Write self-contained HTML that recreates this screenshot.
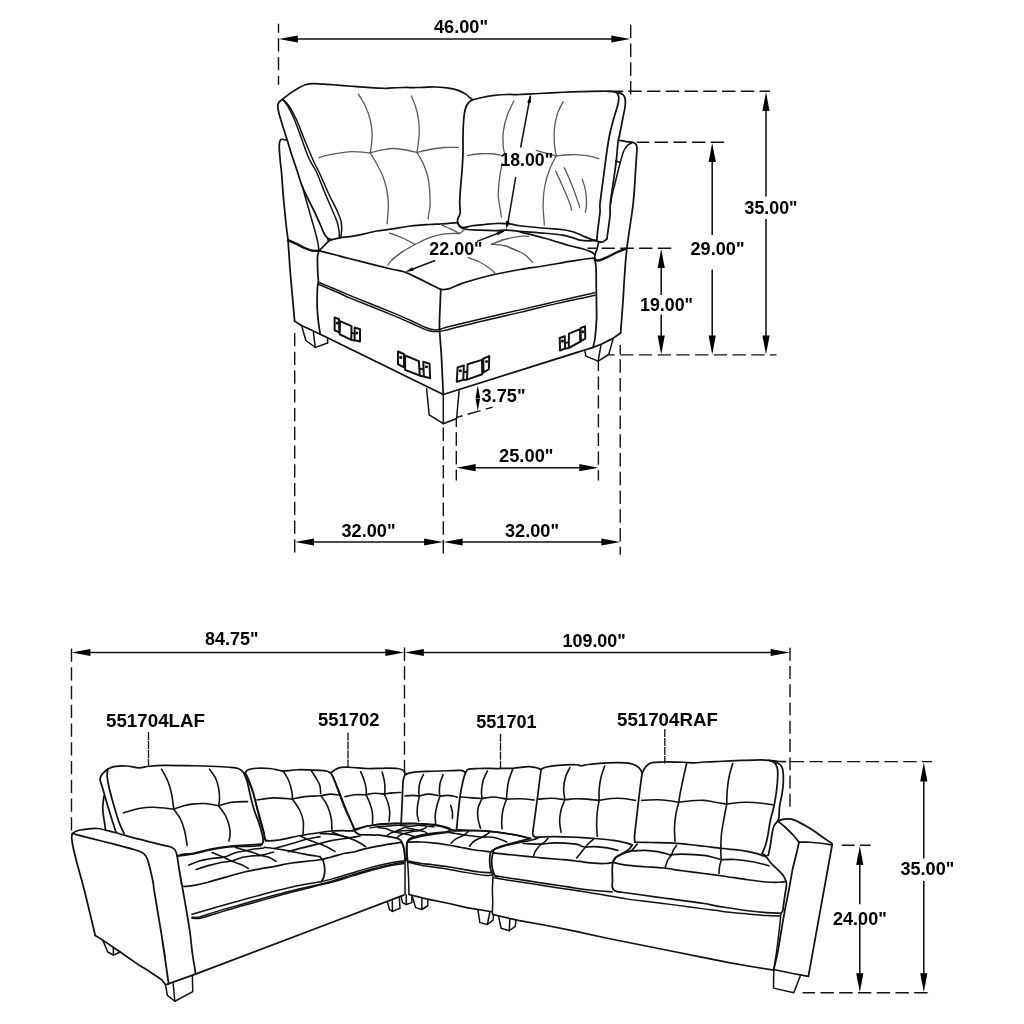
<!DOCTYPE html>
<html><head><meta charset="utf-8"><title>Dimensions</title>
<style>
html,body{margin:0;padding:0;background:#fff;}
body{width:1024px;height:1024px;overflow:hidden;font-family:"Liberation Sans",sans-serif;}
svg{display:block;position:absolute;left:0;top:0;}
text{will-change:transform;}
.o{fill:none;stroke:#111;stroke-width:1.75;stroke-linecap:round;stroke-linejoin:round;}
.k{fill:none;stroke:#111;stroke-width:2.4;stroke-linecap:round;stroke-linejoin:round;}
.t{fill:none;stroke:#5a5a5a;stroke-width:1.3;stroke-linecap:round;stroke-linejoin:round;}
.u{fill:none;stroke:#111;stroke-width:1.5;stroke-linecap:round;stroke-linejoin:round;}
.d{fill:none;stroke:#111;stroke-width:1.55;}
.h{fill:none;stroke:#111;stroke-width:1.4;stroke-dasharray:13.4 5.35;}
.b{fill:none;stroke:#111;stroke-width:2;stroke-linejoin:round;}
.d2{fill:none;stroke:#111;stroke-width:1.5;}
.v{fill:none;stroke:#111;stroke-width:1.6;stroke-linecap:round;stroke-linejoin:round;}
.hs{fill:none;stroke:#111;stroke-width:1.3;stroke-dasharray:8 1;}
.a{fill:#000;stroke:none;}
text{font-family:"Liberation Sans",sans-serif;font-weight:bold;fill:#000;}
</style></head><body>
<svg width="1024" height="1024" viewBox="0 0 1024 1024">
<rect x="0" y="0" width="1024" height="1024" fill="#fff"/>
<path class="d" d="M288.8 39 L620.3 39"/>
<path class="a" d="M278.8 39 L297.8 35.4 L297.8 42.6 Z"/>
<path class="a" d="M630.3 39 L611.3 42.6 L611.3 35.4 Z"/>
<path class="h" stroke-dashoffset="4.4" d="M278.5 23.8 L278.5 84.8"/>
<path class="h" stroke-dashoffset="0" d="M630.7 24.8 L630.7 100"/>
<text x="434" y="33" font-size="17.5" textLength="54" lengthAdjust="spacingAndGlyphs">46.00&quot;</text>
<path class="h" stroke-dashoffset="0" d="M628.3 91.2 L770 91.2"/>
<path class="d" d="M766 102 L766 196.5"/>
<path class="d" d="M766 219 L766 344.5"/>
<path class="a" d="M766 92 L769.6 111 L762.4 111 Z"/>
<path class="a" d="M766 354.5 L762.4 335.5 L769.6 335.5 Z"/>
<text x="744.5" y="213.5" font-size="17.5" textLength="53" lengthAdjust="spacingAndGlyphs">35.00&quot;</text>
<path class="h" stroke-dashoffset="0.9" d="M636.7 142.3 L726.3 142.3"/>
<path class="d" d="M712.2 153 L712.2 235"/>
<path class="d" d="M712.2 269.5 L712.2 344.5"/>
<path class="a" d="M712.2 143 L715.8 162 L708.6 162 Z"/>
<path class="a" d="M712.2 354.5 L708.6 335.5 L715.8 335.5 Z"/>
<text x="690.5" y="255" font-size="17.5" textLength="54" lengthAdjust="spacingAndGlyphs">29.00&quot;</text>
<path class="h" stroke-dashoffset="4.65" d="M587.5 248.2 L671.5 248.2"/>
<path class="d" d="M661.2 259 L661.2 295"/>
<path class="d" d="M661.2 314.5 L661.2 344.5"/>
<path class="a" d="M661.2 249 L664.8 268 L657.6 268 Z"/>
<path class="a" d="M661.2 354.5 L657.6 335.5 L664.8 335.5 Z"/>
<text x="640" y="310.5" font-size="17.5" textLength="53" lengthAdjust="spacingAndGlyphs">19.00&quot;</text>
<path class="h" stroke-dashoffset="7.5" d="M608.8 354.9 L776.5 354.9"/>
<path class="h" stroke-dashoffset="0" d="M294.7 332.9 L294.7 554.5"/>
<path class="h" stroke-dashoffset="0" d="M443.3 427.5 L443.3 554.7"/>
<path class="h" stroke-dashoffset="4.6" d="M620.2 345.1 L620.2 554.7"/>
<path class="h" stroke-dashoffset="4.8" d="M456.3 418.3 L456.3 480.6"/>
<path class="h" stroke-dashoffset="3.65" d="M598.4 361.3 L598.4 480.6"/>
<path class="d" d="M305 542 L433.1 542"/>
<path class="a" d="M295 542 L314 538.4 L314 545.6 Z"/>
<path class="a" d="M443.1 542 L424.1 545.6 L424.1 538.4 Z"/>
<path class="d" d="M453.6 542 L610.3 542"/>
<path class="a" d="M443.6 542 L462.6 538.4 L462.6 545.6 Z"/>
<path class="a" d="M620.3 542 L601.3 545.6 L601.3 538.4 Z"/>
<text x="341.5" y="536.5" font-size="17.5" textLength="54" lengthAdjust="spacingAndGlyphs">32.00&quot;</text>
<text x="505" y="536.5" font-size="17.5" textLength="54" lengthAdjust="spacingAndGlyphs">32.00&quot;</text>
<path class="d" d="M466.6 467.7 L588.3 467.7"/>
<path class="a" d="M456.6 467.7 L475.6 464.1 L475.6 471.3 Z"/>
<path class="a" d="M598.3 467.7 L579.3 471.3 L579.3 464.1 Z"/>
<text x="499" y="462" font-size="17.5" textLength="54.5" lengthAdjust="spacingAndGlyphs">25.00&quot;</text>
<text x="481.5" y="402" font-size="17.5" textLength="44" lengthAdjust="spacingAndGlyphs">3.75&quot;</text>
<path class="d" d="M81.4 652.5 L394.3 652.5"/>
<path class="a" d="M71.4 652.5 L90.4 648.9 L90.4 656.1 Z"/>
<path class="a" d="M404.3 652.5 L385.3 656.1 L385.3 648.9 Z"/>
<path class="d" d="M414.8 652.5 L779.7 652.5"/>
<path class="a" d="M404.8 652.5 L423.8 648.9 L423.8 656.1 Z"/>
<path class="a" d="M789.7 652.5 L770.7 656.1 L770.7 648.9 Z"/>
<path class="h" stroke-dashoffset="0" d="M71.5 648.4 L71.5 832.3"/>
<path class="h" stroke-dashoffset="0" d="M404.5 647.6 L404.5 773.2"/>
<path class="h" style="stroke-dasharray:13.04 5.2" d="M790 647.8 L790 806.8"/>
<text x="205" y="644.7" font-size="17.5" textLength="53.5" lengthAdjust="spacingAndGlyphs">84.75&quot;</text>
<text x="562.5" y="647.2" font-size="17.5" textLength="63.3" lengthAdjust="spacingAndGlyphs">109.00&quot;</text>
<text x="106" y="727" font-size="18" textLength="99" lengthAdjust="spacingAndGlyphs">551704LAF</text>
<text x="318" y="726" font-size="18" textLength="61.5" lengthAdjust="spacingAndGlyphs">551702</text>
<text x="476.3" y="728" font-size="18" textLength="60.2" lengthAdjust="spacingAndGlyphs">551701</text>
<text x="617" y="725.5" font-size="18" textLength="100.8" lengthAdjust="spacingAndGlyphs">551704RAF</text>
<path class="hs" stroke-dashoffset="0" d="M148.5 732 L148.5 765.5"/>
<path class="hs" stroke-dashoffset="0" d="M348 732.5 L348 766.8"/>
<path class="hs" stroke-dashoffset="0" d="M500.5 733.8 L500.5 768"/>
<path class="hs" stroke-dashoffset="0" d="M664.8 729 L664.8 763.5"/>
<path class="h" stroke-dashoffset="0" d="M790.7 761.6 L932 761.6"/>
<path class="d" d="M923.8 772.5 L923.8 858.5"/>
<path class="d" d="M923.8 881 L923.8 982.3"/>
<path class="a" d="M923.8 762.5 L927.4 781.5 L920.2 781.5 Z"/>
<path class="a" d="M923.8 992.3 L920.2 973.3 L927.4 973.3 Z"/>
<text x="900.5" y="874.7" font-size="17.5" textLength="53.8" lengthAdjust="spacingAndGlyphs">35.00&quot;</text>
<path class="h" stroke-dashoffset="0.4" d="M841.6 845.2 L870.6 845.2"/>
<path class="d" d="M859.8 856 L859.8 904.3"/>
<path class="d" d="M859.8 917 L859.8 982.3"/>
<path class="a" d="M859.8 846 L863.4 865 L856.2 865 Z"/>
<path class="a" d="M859.8 992.3 L856.2 973.3 L863.4 973.3 Z"/>
<text x="833" y="925.2" font-size="17.5" textLength="53.8" lengthAdjust="spacingAndGlyphs">24.00&quot;</text>
<path class="h" stroke-dashoffset="0.9" d="M802.6 992.8 L933 992.8"/>
<path class="o" d="M282.75 99.12 C283.79 98.29 286.5 95.9 289 94.12 C291.5 92.35 295.04 90.06 297.75 88.5 C300.46 86.94 302.54 85.58 305.25 84.75 C307.96 83.92 309.42 83.5 314 83.5 C318.58 83.5 326.5 84.29 332.75 84.75 C339 85.21 345.25 85.77 351.5 86.25 C357.75 86.73 364.83 87.29 370.25 87.62 C375.67 87.96 380.38 88.21 384 88.25 C387.62 88.29 388.58 88 392 87.88 C395.42 87.75 400.33 87.56 404.5 87.5 C408.67 87.44 412.21 87.58 417 87.5 C421.79 87.42 428.25 86.94 433.25 87 C438.25 87.06 442.83 87.31 447 87.88 C451.17 88.44 455.12 89.33 458.25 90.38 C461.38 91.42 463.77 92.88 465.75 94.12 C467.73 95.38 468.98 96.94 470.12 97.88 C471.27 98.81 472.21 99.44 472.62 99.75"/>
<path class="o" d="M282.75 99.12 C282.12 99.65 279.83 101.1 279 102.25 C278.17 103.4 277.75 104.12 277.75 106 C277.75 107.88 278.17 110.17 279 113.5 C279.83 116.83 281.4 121.62 282.75 126 C284.1 130.38 285.56 134.75 287.12 139.75 C288.69 144.75 290.4 150.62 292.12 156 C293.85 161.38 295.94 167.25 297.5 172 C299.06 176.75 300 180.54 301.5 184.5 C303 188.46 304.42 191.38 306.5 195.75 C308.58 200.12 311.71 205.96 314 210.75 C316.29 215.54 318.58 220.75 320.25 224.5 C321.92 228.25 322.75 230.96 324 233.25 C325.25 235.54 326.4 237.21 327.75 238.25 C329.1 239.29 330.04 239.6 332.12 239.5 C334.21 239.4 338.9 237.94 340.25 237.62"/>
<path class="u" d="M283.38 99.75 C284.31 100.79 286.81 102.67 289 106 C291.19 109.33 294 114.33 296.5 119.75 C299 125.17 301.08 131.42 304 138.5 C306.92 145.58 311.5 156.67 314 162.25 C316.5 167.83 316.5 166.62 319 172 C321.5 177.38 326.08 188.25 329 194.5 C331.92 200.75 334.52 205.12 336.5 209.5 C338.48 213.88 340 217.62 340.88 220.75 C341.75 223.88 341.75 225.54 341.75 228.25 C341.75 230.96 341.02 235.54 340.88 237"/>
<path class="u" d="M282.75 99.75 C283.58 100.79 285.88 102.88 287.75 106 C289.62 109.12 291.71 113.08 294 118.5 C296.29 123.92 299 131.83 301.5 138.5 C304 145.17 306.5 152.92 309 158.5 C311.5 164.08 314 166.62 316.5 172 C319 177.38 321.5 184.71 324 190.75 C326.5 196.79 329.31 203.04 331.5 208.25 C333.69 213.46 335.88 218.25 337.12 222 C338.38 225.75 338.62 228.15 339 230.75 C339.38 233.35 339.31 236.48 339.38 237.62"/>
<path class="o" d="M340.25 237.62 C342.12 237.42 347.54 237 351.5 236.38 C355.46 235.75 359.83 234.77 364 233.88 C368.17 232.98 371.83 231.83 376.5 231 C381.17 230.17 386.29 229.71 392 228.88 C397.71 228.04 404.5 226.73 410.75 226 C417 225.27 424.29 224.85 429.5 224.5 C434.71 224.15 437.31 224.19 442 223.88 C446.69 223.56 455.02 222.83 457.62 222.62"/>
<path class="o" d="M287.12 140.38 C286.08 140.23 282.19 138.56 280.88 139.5 C279.56 140.44 279.35 142.42 279.25 146 C279.15 149.58 279.88 156.67 280.25 161 C280.62 165.33 280.98 166 281.5 172 C282.02 178 282.54 187.62 283.38 197 C284.21 206.38 285.73 221.06 286.5 228.25 C287.27 235.44 287.38 232.83 288 240.12 C288.62 247.42 289.56 263.19 290.25 272 C290.94 280.81 291.4 284.81 292.12 293 C292.85 301.19 294.21 316.44 294.62 321.12"/>
<path class="u" d="M302.12 185.75 C302.65 187.62 303.9 192.21 305.25 197 C306.6 201.79 308.58 208.67 310.25 214.5 C311.92 220.33 314 227.42 315.25 232 C316.5 236.58 317.12 238.88 317.75 242 C318.38 245.12 318.79 249.29 319 250.75"/>
<path class="u" d="M327.75 238.25 L328.38 241.38 L332.12 239.5"/>
<path class="o" d="M328.38 241.38 C327.65 242.1 325.56 244.19 324 245.75 C322.44 247.31 319.83 249.92 319 250.75"/>
<path class="k" d="M288 240.12 C289.42 240.75 293.62 242.52 296.5 243.88 C299.38 245.23 302.54 247.1 305.25 248.25 C307.96 249.4 310.46 250.33 312.75 250.75 C315.04 251.17 317.96 250.75 319 250.75"/>
<path class="o" d="M472.62 99.75 C474.19 99.38 478.35 98.23 482 97.5 C485.65 96.77 490.33 95.88 494.5 95.38 C498.67 94.88 502.75 94.65 507 94.5 C511.25 94.35 514.71 94.67 520 94.5 C525.29 94.33 531.46 93.88 538.75 93.5 C546.04 93.12 556.46 92.56 563.75 92.25 C571.04 91.94 575.21 91.79 582.5 91.62 C589.79 91.46 602.08 91.19 607.5 91.25 C612.92 91.31 613.23 91.42 615 92 C616.77 92.58 617.5 93.56 618.12 94.75 C618.75 95.94 618.85 97.25 618.75 99.12 C618.65 101 618.33 102.77 617.5 106 C616.67 109.23 615.1 113.5 613.75 118.5 C612.4 123.5 610.62 129.75 609.38 136 C608.12 142.25 607.29 148.71 606.25 156 C605.21 163.29 604.17 171.75 603.12 179.75 C602.08 187.75 600.52 198.62 600 204 C599.48 209.38 600.42 207.33 600 212 C599.58 216.67 598.02 227.31 597.5 232 C596.98 236.69 596.98 238.77 596.88 240.12"/>
<path class="o" d="M607.5 91.25 L622.5 91.25"/>
<path class="o" d="M618.12 92.5 C618.96 92.88 621.94 93.54 623.12 94.75 C624.31 95.96 624.94 97.67 625.25 99.75 C625.56 101.83 625.46 103.92 625 107.25 C624.54 110.58 623.44 114.96 622.5 119.75 C621.56 124.54 620.1 132.46 619.38 136 C618.65 139.54 618.65 136.83 618.12 141 C617.6 145.17 617.08 153.92 616.25 161 C615.42 168.08 614.12 176.33 613.12 183.5 C612.12 190.67 610.77 198.62 610.25 204 C609.73 209.38 610.46 210.67 610 215.75 C609.54 220.83 608.02 230.65 607.5 234.5 C606.98 238.35 606.98 238.15 606.88 238.88"/>
<path class="o" d="M606.88 238.88 C606.15 239.4 604.06 241.58 602.5 242 C600.94 242.42 599.58 241.9 597.5 241.38 C595.42 240.85 592.5 239.81 590 238.88 C587.5 237.94 585.21 236.9 582.5 235.75 C579.79 234.6 576.88 233 573.75 232 C570.62 231 568.54 230.38 563.75 229.75 C558.96 229.12 552.29 228.92 545 228.25 C537.71 227.58 525.92 226.48 520 225.75 C514.08 225.02 513.33 224.25 509.5 223.88 C505.67 223.5 501.17 223.4 497 223.5 C492.83 223.6 488.67 224.12 484.5 224.5 C480.33 224.88 475.54 225.23 472 225.75 C468.46 226.27 465.33 227.62 463.25 227.62 C461.17 227.62 460.44 226.69 459.5 225.75 C458.56 224.81 457.88 223.25 457.62 222 C457.38 220.75 457.58 219.71 458 218.25 C458.42 216.79 459.83 215.96 460.12 213.25 C460.42 210.54 459.69 206.12 459.75 202 C459.81 197.88 460.12 193.67 460.5 188.5 C460.88 183.33 461.58 176.83 462 171 C462.42 165.17 462.83 158.92 463 153.5 C463.17 148.08 462.92 143.71 463 138.5 C463.08 133.29 463.15 127.04 463.5 122.25 C463.85 117.46 464.33 112.98 465.12 109.75 C465.92 106.52 467 104.54 468.25 102.88 C469.5 101.21 471.9 100.27 472.62 99.75"/>
<path class="o" d="M457.62 222.62 C458.04 223.35 458.77 225.9 460.12 227 C461.48 228.1 462.52 228.73 465.75 229.25 C468.98 229.77 474.71 229.92 479.5 230.12 C484.29 230.33 489.92 230.5 494.5 230.5 C499.08 230.5 502.75 229.98 507 230.12 C511.25 230.27 513.67 230.85 520 231.38 C526.33 231.9 537.92 232.62 545 233.25 C552.08 233.88 557.92 234.4 562.5 235.12 C567.08 235.85 569.58 236.79 572.5 237.62 C575.42 238.46 577.08 239.6 580 240.12 C582.92 240.65 587.19 240.75 590 240.75 C592.81 240.75 595.73 240.23 596.88 240.12"/>
<path class="o" d="M520 232 C524.17 233.04 536.67 235.96 545 238.25 C553.33 240.54 563.33 243.88 570 245.75 C576.67 247.62 581.25 248.35 585 249.5 C588.75 250.65 590.88 251.69 592.5 252.62 C594.12 253.56 594.38 254.71 594.75 255.12"/>
<path class="o" d="M618.75 140.38 C620 140.58 623.85 141.27 626.25 141.62 C628.65 141.98 631.46 141.98 633.12 142.5 C634.79 143.02 635.62 143.54 636.25 144.75 C636.88 145.96 636.98 145.58 636.88 149.75 C636.77 153.92 636.25 160.71 635.62 169.75 C635 178.79 634.58 190.92 633.12 204 C631.67 217.08 628.33 235.88 626.88 248.25 C625.42 260.62 625 269.75 624.38 278.25 C623.75 286.75 623.75 290.12 623.12 299.25 C622.5 308.38 621.04 327.38 620.62 333"/>
<path class="u" d="M631.88 142.88 C631.15 143.29 628.85 144.02 627.5 145.38 C626.15 146.73 625 147.98 623.75 151 C622.5 154.02 621.46 158.08 620 163.5 C618.54 168.92 616.35 178.08 615 183.5 C613.65 188.92 612.6 192.58 611.88 196 C611.15 199.42 610.83 202.67 610.62 204"/>
<path class="u" d="M615.62 161 L620 162.25"/>
<path class="o" d="M620.62 333 L612.5 338.62 L601.25 344.25 L593.12 347.38"/>
<path class="k" d="M594.75 259.5 C595.42 259.67 596.62 260.92 598.75 260.5 C600.88 260.08 604.38 258.42 607.5 257 C610.62 255.58 614.38 253.42 617.5 252 C620.62 250.58 624.79 249.08 626.25 248.5"/>
<path class="o" d="M598.75 242 C598.44 243.25 597.5 247.31 596.88 249.5 C596.25 251.69 595.35 253.46 595 255.12 C594.65 256.79 594.58 257.52 594.75 259.5 C594.92 261.48 595.75 262.83 596 267 C596.25 271.17 596.17 278.08 596.25 284.5 C596.33 290.92 596.46 299.5 596.5 305.5 C596.54 311.5 596.75 315.08 596.5 320.5 C596.25 325.92 595.56 333.52 595 338 C594.44 342.48 593.44 345.81 593.12 347.38"/>
<path class="o" d="M319 250.75 C321.5 251.38 329 253.21 334 254.5 C339 255.79 342.96 256.94 349 258.5 C355.04 260.06 363.08 262.08 370.25 263.88 C377.42 265.67 386.29 267.9 392 269.25 C397.71 270.6 400.33 270.6 404.5 272 C408.67 273.4 412.83 275.65 417 277.62 C421.17 279.6 425.54 281.9 429.5 283.88 C433.46 285.85 438.88 288.56 440.75 289.5"/>
<path class="o" d="M440.75 289.5 C442 289.4 444.92 289.81 448.25 288.88 C451.58 287.94 455.54 285.65 460.75 283.88 C465.96 282.1 473.67 279.85 479.5 278.25 C485.33 276.65 489 275.71 495.75 274.25 C502.5 272.79 511.79 270.92 520 269.5 C528.21 268.08 536.67 267.1 545 265.75 C553.33 264.4 562.5 262.58 570 261.38 C577.5 260.17 585.88 259.02 590 258.5 C594.12 257.98 593.96 258.29 594.75 258.25"/>
<path class="o" d="M319 250.75 C318.75 251.79 317.71 253.46 317.5 257 C317.29 260.54 317.6 267.83 317.75 272 C317.9 276.17 318.42 279.54 318.38 282 C318.33 284.46 317.71 282.83 317.5 286.75 C317.29 290.67 316.98 299.67 317.12 305.5 C317.27 311.33 317.85 316.96 318.38 321.75 C318.9 326.54 319.94 332.17 320.25 334.25"/>
<path class="o" d="M440.75 289.5 C440.65 292.17 440.33 299.08 440.12 305.5 C439.92 311.92 439.29 319.67 439.5 328 C439.71 336.33 440.75 344.46 441.38 355.5 C442 366.54 442.94 387.79 443.25 394.25"/>
<path class="u" d="M318.38 282.25 C321.81 283.67 333.48 288.44 339 290.75 C344.52 293.06 342.67 292.52 351.5 296.12 C360.33 299.73 382.12 308.31 392 312.38 C401.88 316.44 404.92 317.9 410.75 320.5 C416.58 323.1 423.04 326.44 427 328 C430.96 329.56 432.31 329.67 434.5 329.88 C436.69 330.08 437.83 329.77 440.12 329.25 C442.42 328.73 441.69 328.42 448.25 326.75 C454.81 325.08 467.54 322.06 479.5 319.25 C491.46 316.44 507 312.9 520 309.88 C533 306.85 545 303.98 557.5 301.12 C570 298.27 588.75 294.15 595 292.75"/>
<path class="u" d="M318.38 284.25 C321.81 285.71 333.48 290.6 339 293 C344.52 295.4 342.67 294.98 351.5 298.62 C360.33 302.27 382.12 310.81 392 314.88 C401.88 318.94 404.92 320.46 410.75 323 C416.58 325.54 423.04 328.71 427 330.12 C430.96 331.54 432.31 331.29 434.5 331.5 C436.69 331.71 437.62 331.75 440.12 331.38 C442.62 331 442.94 330.85 449.5 329.25 C456.06 327.65 467.75 324.56 479.5 321.75 C491.25 318.94 507 315.44 520 312.38 C533 309.31 545 306.23 557.5 303.38 C570 300.52 588.75 296.6 595 295.25"/>
<path class="o" d="M294.62 321.12 L301.5 325.5 L320.25 334.25 L443.25 394.5 L593.12 347.38"/>
<path class="u" d="M301.5 325.5 L305.88 340.5 L315.25 347.38 L327.75 343 L327.5 339.25"/>
<path class="u" d="M313.38 332.38 L315.25 347.38"/>
<path class="u" d="M426.6 388.5 L429.2 414.9 L443.3 423.7 L456.6 418.5 L459.1 390.8"/>
<path class="u" d="M443.3 394.6 L443.3 423.7"/>
<path class="u" d="M585 351.5 L585.88 356.12 L598.12 361.12 L608.75 354.5 L613.12 338.62"/>
<path class="u" d="M601 344.88 L598.12 361.12"/>
<path class="b" d="M334.62 317.38 L339 319.25 L339.38 332.38 L334.62 330.25 Z"/>
<path class="b" d="M340 321.12 L351.5 326.12 L351.25 339.88 L339.62 334.25 Z"/>
<path class="b" d="M354.62 327.38 L360 329.25 L360 341.5 L354.62 340.25 Z"/>
<path class="b" d="M351.5 333 L354.62 333.62"/>
<path class="b" d="M351.25 339.88 L354.62 340.5"/>
<circle cx="337.12" cy="323" r="1.6" fill="#111"/>
<circle cx="356.75" cy="333" r="1.6" fill="#111"/>
<path class="b" d="M398 351.5 L403.88 354 L404.12 367.38 L398 364.25 Z"/>
<path class="b" d="M405.12 355.5 L418.88 361.12 L419.75 375.5 L405.12 369.88 Z"/>
<path class="b" d="M423.25 361.75 L429.5 363.62 L430.12 378.25 L423.88 376.5 Z"/>
<path class="b" d="M419.5 368.62 L423.25 369.25"/>
<path class="b" d="M419.75 375.5 L423.25 376.5"/>
<circle cx="400.75" cy="357.38" r="1.6" fill="#111"/>
<circle cx="426.38" cy="366.75" r="1.6" fill="#111"/>
<path class="b" d="M457.62 367.38 L463.88 365.5 L463.25 379.88 L456.75 381.75 Z"/>
<path class="b" d="M467.62 364.25 L482 359.88 L482.25 374.25 L467 379.62 Z"/>
<path class="b" d="M483.25 358.62 L489.25 356.12 L488.88 369.25 L483.5 372.38 Z"/>
<path class="b" d="M463.5 372.38 L467 371.5"/>
<path class="b" d="M463.25 379.88 L467 379.62"/>
<circle cx="460.38" cy="370.75" r="1.6" fill="#111"/>
<circle cx="486.62" cy="361.5" r="1.6" fill="#111"/>
<path class="b" d="M559.75 338 L564.75 336.12 L565 348.62 L560 350.5 Z"/>
<path class="b" d="M569 333.62 L580 329.25 L580.25 341.75 L568.75 348 Z"/>
<path class="b" d="M580.62 328 L585 326.38 L585.25 338.62 L580.88 341.12 Z"/>
<path class="b" d="M564.75 343 L568.12 342.38"/>
<path class="b" d="M565 348.62 L568.75 348"/>
<circle cx="562.5" cy="341.12" r="1.6" fill="#111"/>
<circle cx="582.88" cy="331.75" r="1.6" fill="#111"/>
<path class="t" d="M358.38 94.12 C359.52 96.1 363.27 101.73 365.25 106 C367.23 110.27 369.1 115.17 370.25 119.75 C371.4 124.33 371.92 129.33 372.12 133.5 C372.33 137.67 371.81 141.52 371.5 144.75 C371.19 147.98 370.46 151.52 370.25 152.88"/>
<path class="t" d="M319 157.5 C321.29 156.94 327.33 155.1 332.75 154.12 C338.17 153.15 345.25 151.83 351.5 151.62 C357.75 151.42 367.12 152.67 370.25 152.88"/>
<path class="t" d="M370.25 152.88 C371.92 152.46 376.62 151.1 380.25 150.38 C383.88 149.65 387.96 148.6 392 148.5 C396.04 148.4 400.33 149.08 404.5 149.75 C408.67 150.42 414.92 152.04 417 152.5"/>
<path class="t" d="M370.25 152.88 C371.29 154.65 374.42 159.65 376.5 163.5 C378.58 167.35 381.08 171.83 382.75 176 C384.42 180.17 385.56 183.83 386.5 188.5 C387.44 193.17 388.27 198.1 388.38 204 C388.48 209.9 387.33 220.56 387.12 223.88"/>
<path class="t" d="M411.38 96 C412.1 97.88 414.56 103.29 415.75 107.25 C416.94 111.21 417.92 115.58 418.5 119.75 C419.08 123.92 419.29 128.29 419.25 132.25 C419.21 136.21 418.62 140.17 418.25 143.5 C417.88 146.83 417.21 150.79 417 152.25"/>
<path class="t" d="M417 152.5 C419.08 152 424.92 150.33 429.5 149.5 C434.08 148.67 439.71 147.83 444.5 147.5 C449.29 147.17 455.96 147.5 458.25 147.5"/>
<path class="t" d="M417 152.5 C418.04 154.33 421.48 159.58 423.25 163.5 C425.02 167.42 426.58 171.83 427.62 176 C428.67 180.17 429.08 183.83 429.5 188.5 C429.92 193.17 430.12 200.5 430.12 204 C430.12 207.5 429.85 207.02 429.5 209.5 C429.15 211.98 428.25 217.31 428 218.88"/>
<path class="t" d="M513.88 101 C512.73 103.5 508.77 110.79 507 116 C505.23 121.21 503.88 127.25 503.25 132.25 C502.62 137.25 503.04 142.46 503.25 146 C503.46 149.54 504.29 152.25 504.5 153.5"/>
<path class="t" d="M467.62 155.38 C469.6 155.1 475.44 154.02 479.5 153.75 C483.56 153.48 488.25 153.48 492 153.75 C495.75 154.02 500.33 155.1 502 155.38"/>
<path class="t" d="M502 163.5 C501.58 166 500.12 173.29 499.5 178.5 C498.88 183.71 498.25 190.42 498.25 194.75 C498.25 199.08 498.98 200.79 499.5 204.5 C500.02 208.21 501.06 214.92 501.38 217"/>
<path class="t" d="M563.12 101.62 C562.19 103.6 558.96 109.02 557.5 113.5 C556.04 117.98 554.9 123.5 554.38 128.5 C553.85 133.5 554.06 138.92 554.38 143.5 C554.69 148.08 555.94 153.92 556.25 156"/>
<path class="t" d="M536.25 150.38 C537.71 150.79 541.67 151.94 545 152.88 C548.33 153.81 554.38 155.48 556.25 156"/>
<path class="t" d="M556.25 156 C558.54 155.79 565.21 154.85 570 154.75 C574.79 154.65 580.21 154.75 585 155.38 C589.79 156 596.46 157.98 598.75 158.5"/>
<path class="t" d="M556.25 156 C555.21 158.08 551.88 163.71 550 168.5 C548.12 173.29 546.15 178.83 545 184.75 C543.85 190.67 543.23 197.27 543.12 204 C543.02 210.73 544.17 221.6 544.38 225.12"/>
<path class="t" d="M555.62 171 C556.77 173.5 560.1 180.5 562.5 186 C564.9 191.5 568.5 199.98 570 204 C571.5 208.02 571.25 209.1 571.5 210.12"/>
<path class="t" d="M564.38 167.88 C565.52 170.48 568.85 177.48 571.25 183.5 C573.65 189.52 577.4 199.98 578.75 204 C580.1 208.02 579.27 207.02 579.38 207.62"/>
<path class="t" d="M582.25 179.12 C582.81 181.1 584.92 186.85 585.62 191 C586.33 195.15 586.54 200.5 586.5 204 C586.46 207.5 585.56 210.67 585.38 212"/>
<path class="t" d="M440.75 224.5 C442.42 225.23 447.62 227.38 450.75 228.88 C453.88 230.38 458.04 232.73 459.5 233.5"/>
<path class="t" d="M459.5 233.5 L464.5 229.75"/>
<path class="t" d="M392 259.5 C393.67 258.25 398.15 254.5 402 252 C405.85 249.5 410.54 246.9 415.12 244.5 C419.71 242.1 424.6 239.4 429.5 237.62 C434.4 235.85 439.5 234.56 444.5 233.88 C449.5 233.19 457 233.56 459.5 233.5"/>
<path class="t" d="M392 233.88 C393.88 234.6 399.4 236.48 403.25 238.25 C407.1 240.02 413.15 243.46 415.12 244.5"/>
<path class="t" d="M491.38 244.25 C493.56 243.46 499.73 240.81 504.5 239.5 C509.27 238.19 515.96 236.9 520 236.38 C524.04 235.85 527.29 236.38 528.75 236.38"/>
<path class="t" d="M491.38 244.25 C493.56 244.5 499.73 244.46 504.5 245.75 C509.27 247.04 516.38 250.33 520 252 C523.62 253.67 524.17 254.04 526.25 255.75 C528.33 257.46 531.46 261.17 532.5 262.25"/>
<path class="t" d="M468 257.62 C469.92 258.35 475.92 260.23 479.5 262 C483.08 263.77 486.79 266.27 489.5 268.25 C492.21 270.23 494.71 272.94 495.75 273.88"/>
<path class="t" d="M389.62 233.25 L392 233.62"/>
<path class="t" d="M387.75 265.12 C388.46 264.29 389.62 262.31 392 260.12 C394.38 257.94 400.33 253.35 402 252"/>
<path class="d2" d="M530.3 96 L520.6 147.5"/>
<path class="a" d="M530.6 94.4 L530.96 103.1 L527.22 102.43 Z"/>
<path class="d2" d="M515.7 177.2 L507.4 226"/>
<path class="a" d="M506.4 229.5 L505.87 220.81 L509.62 221.41 Z"/>
<text x="500.5" y="165.5" font-size="17.5" textLength="52.5" lengthAdjust="spacingAndGlyphs">18.00&quot;</text>
<path class="d2" d="M504 231 L477 241.4"/>
<path class="a" d="M505.2 230.5 L497.93 235.3 L496.58 231.74 Z"/>
<path class="d2" d="M435.1 260.5 L409 270.5"/>
<path class="a" d="M405.1 272 L412.37 267.2 L413.72 270.76 Z"/>
<text x="429.3" y="255.1" font-size="17.5" textLength="53.3" lengthAdjust="spacingAndGlyphs">22.00&quot;</text>
<path class="a" d="M477.8 385.5 L480.1 398 L475.5 398 Z"/>
<path class="a" d="M477.8 411 L475.5 398.5 L480.1 398.5 Z"/>
<path class="h" stroke-dashoffset="6.7" d="M456.1 417.6 L492.7 407.1"/>
<path class="o" d="M72.12 834.12 C72.85 833.6 74.1 831.83 76.5 831 C78.9 830.17 82.96 829.54 86.5 829.12 C90.04 828.71 93.17 827.98 97.75 828.5 C102.33 829.02 107.12 830.48 114 832.25 C120.88 834.02 130.67 836.94 139 839.12 C147.33 841.31 158.58 844.02 164 845.38 C169.42 846.73 169.62 846.42 171.5 847.25 C173.38 848.08 174.31 848.92 175.25 850.38 C176.19 851.83 176.5 852.98 177.12 856 C177.75 859.02 178.27 863.83 179 868.5 C179.73 873.17 181.5 884.04 181.5 884 C181.5 883.96 178.79 867.33 179 868.25 C179.21 869.17 181.4 881.79 182.75 889.5 C184.1 897.21 185.88 907 187.12 914.5 C188.38 922 189.38 928 190.25 934.5 C191.12 941 191.6 947.83 192.38 953.5 C193.15 959.17 194.35 965.06 194.88 968.5 C195.4 971.94 195.4 973.19 195.5 974.12"/>
<path class="o" d="M72.75 833.5 C75.46 834.23 82.12 836.1 89 837.88 C95.88 839.65 106.5 842.19 114 844.12 C121.5 846.06 129.42 848.15 134 849.5 C138.58 850.85 139.52 851.17 141.5 852.25 C143.48 853.33 144.73 854.33 145.88 856 C147.02 857.67 147.44 859.12 148.38 862.25 C149.31 865.38 150.67 871.12 151.5 874.75 C152.33 878.38 152.96 881.54 153.38 884 C153.79 886.46 153.27 884.83 154 889.5 C154.73 894.17 156.5 904.5 157.75 912 C159 919.5 160.25 926.79 161.5 934.5 C162.75 942.21 165.1 957.17 165.25 958.25 C165.4 959.33 162.23 939.71 162.38 941 C162.52 942.29 165.08 958.81 166.12 966 C167.17 973.19 168.21 981.1 168.62 984.12"/>
<path class="o" d="M72.12 834.12 C72.06 834.85 71.54 836.1 71.75 838.5 C71.96 840.9 72.38 843.92 73.38 848.5 C74.38 853.08 76.19 860.08 77.75 866 C79.31 871.92 80.67 875.92 82.75 884 C84.83 892.08 88.17 905.92 90.25 914.5 C92.33 923.08 94.42 932 95.25 935.5"/>
<path class="o" d="M95.25 935.5 L102.75 940.12 L120.25 952 L139 965.12 L146.75 969.75 L161.75 979.75 L165.5 984.75"/>
<path class="o" d="M165.5 984.75 L178 980.38 L195.5 974.12"/>
<path class="u" d="M165.5 984.75 L167.38 995.38 L174.88 1001.25 L192.75 991.62 L192.38 975.75"/>
<path class="u" d="M173 982.25 L174.88 1001.25"/>
<path class="u" d="M102.75 940.12 L107.75 952 L113.38 955.12 L120.25 952"/>
<path class="u" d="M113.38 948.25 L113.38 955.12"/>
<path class="o" d="M195.5 974.12 L403.75 895.12"/>
<path class="o" d="M107.75 769.12 C108.79 768.71 110.88 767.15 114 766.62 C117.12 766.1 122.33 765.79 126.5 766 C130.67 766.21 135.25 767.83 139 767.88 C142.75 767.92 144.83 766.67 149 766.25 C153.17 765.83 156.83 765.46 164 765.38 C171.17 765.29 184.21 765.6 192 765.75 C199.79 765.9 204.5 766 210.75 766.25 C217 766.5 224.92 766.88 229.5 767.25 C234.08 767.62 235.96 767.67 238.25 768.5 C240.54 769.33 241.79 770.17 243.25 772.25 C244.71 774.33 245.75 776.83 247 781 C248.25 785.17 249.5 792.25 250.75 797.25 C252 802.25 253.25 807.04 254.5 811 C255.75 814.96 257 817.25 258.25 821 C259.5 824.75 261.17 830.17 262 833.5 C262.83 836.83 263.25 839.23 263.25 841 C263.25 842.77 262.21 843.6 262 844.12"/>
<path class="o" d="M262 844.12 C258.67 844.33 247.42 845.02 242 845.38 C236.58 845.73 234.71 845.62 229.5 846.25 C224.29 846.88 217 847.92 210.75 849.12 C204.5 850.33 196.46 852.67 192 853.5 C187.54 854.33 186.48 853.71 184 854.12 C181.52 854.54 178.27 855.69 177.12 856"/>
<path class="o" d="M107.75 769.12 C106.92 769.85 104.04 771.83 102.75 773.5 C101.46 775.17 100 776.62 100 779.12 C100 781.62 101.46 784.02 102.75 788.5 C104.04 792.98 106.08 800.38 107.75 806 C109.42 811.62 111.4 817.98 112.75 822.25 C114.1 826.52 115.35 830.06 115.88 831.62"/>
<path class="o" d="M107.75 769.12 C107.65 770.27 106.92 772.98 107.12 776 C107.33 779.02 107.85 782.25 109 787.25 C110.15 792.25 112.33 800.17 114 806 C115.67 811.83 117.33 817.67 119 822.25 C120.67 826.83 123.17 831.62 124 833.5"/>
<path class="o" d="M104 796 C103.79 798.08 102.65 803.92 102.75 808.5 C102.85 813.08 104.17 819.96 104.62 823.5 C105.08 827.04 105.35 828.71 105.5 829.75"/>
<path class="u" d="M244.5 774.75 C245.12 775.79 246.79 777.88 248.25 781 C249.71 784.12 251.79 788.92 253.25 793.5 C254.71 798.08 255.85 803.92 257 808.5 C258.15 813.08 258.98 816.83 260.12 821 C261.27 825.17 262.94 830.17 263.88 833.5 C264.81 836.83 265.44 839.75 265.75 841"/>
<path class="o" d="M245.12 772.88 C245.65 772.35 246.27 770.52 248.25 769.75 C250.23 768.98 253.46 768.46 257 768.25 C260.54 768.04 265.96 768.21 269.5 768.5 C273.04 768.79 275.96 769.58 278.25 770 C280.54 770.42 279.92 771.04 283.25 771 C286.58 770.96 292.12 769.85 298.25 769.75 C304.38 769.65 315.33 770.17 320 770.38 C324.67 770.58 324.48 770.58 326.25 771 C328.02 771.42 329.9 772.56 330.62 772.88"/>
<path class="o" d="M245.12 772.88 C245.54 773.6 246.48 774.65 247.62 777.25 C248.77 779.85 250.65 784.33 252 788.5 C253.35 792.67 254.4 797.25 255.75 802.25 C257.1 807.25 258.77 813.5 260.12 818.5 C261.48 823.5 262.94 828.6 263.88 832.25 C264.81 835.9 263.15 839.08 265.75 840.38 C268.35 841.67 274.08 840.73 279.5 840 C284.92 839.27 291.5 837.25 298.25 836 C305 834.75 314.29 833.33 320 832.5 C325.71 831.67 328.33 831.29 332.5 831 C336.67 830.71 341.67 830.75 345 830.75 C348.33 830.75 351.25 830.96 352.5 831"/>
<path class="o" d="M330.62 772.88 C331.15 773.81 332.4 775.27 333.75 778.5 C335.1 781.73 336.88 787.25 338.75 792.25 C340.62 797.25 342.92 803.5 345 808.5 C347.08 813.5 349.79 818.92 351.25 822.25 C352.71 825.58 353.54 827.04 353.75 828.5 C353.96 829.96 352.71 830.58 352.5 831"/>
<path class="u" d="M331.88 774.75 C332.81 776.83 335.52 782.46 337.5 787.25 C339.48 792.04 341.77 798.5 343.75 803.5 C345.73 808.5 347.81 813.5 349.38 817.25 C350.94 821 352.19 823.92 353.12 826 C354.06 828.08 354.69 829.12 355 829.75"/>
<path class="o" d="M330.62 772.88 C331.98 772.04 335.73 768.81 338.75 767.88 C341.77 766.94 343.96 767.15 348.75 767.25 C353.54 767.35 361.88 768.33 367.5 768.5 C373.12 768.67 377.5 768.25 382.5 768.25 C387.5 768.25 394.06 768.15 397.5 768.5 C400.94 768.85 401.88 769.54 403.12 770.38 C404.38 771.21 405 771.73 405 773.5 C405 775.27 403.54 777.67 403.12 781 C402.71 784.33 402.71 788.92 402.5 793.5 C402.29 798.08 402.08 803.92 401.88 808.5 C401.67 813.08 401.4 818.4 401.25 821 C401.1 823.6 401.04 823.6 401 824.12"/>
<path class="o" d="M355 829.12 C357.08 828.6 362.92 826.83 367.5 826 C372.08 825.17 376.92 824.54 382.5 824.12 C388.08 823.71 397.92 823.6 401 823.5"/>
<path class="o" d="M405 774.75 C405.83 774.44 407.5 773.4 410 772.88 C412.5 772.35 416.25 771.9 420 771.62 C423.75 771.35 427.83 771.4 432.5 771.25 C437.17 771.1 443.33 770.9 448 770.75 C452.67 770.6 457.79 770.23 460.5 770.38 C463.21 770.52 463.42 771.21 464.25 771.62 C465.08 772.04 465.29 772.67 465.5 772.88"/>
<path class="o" d="M401 824.12 C403.12 824.02 409.54 823.5 413.75 823.5 C417.96 823.5 422.08 823.81 426.25 824.12 C430.42 824.44 435.12 824.75 438.75 825.38 C442.38 826 445.83 827.15 448 827.88 C450.17 828.6 450.33 829.33 451.75 829.75 C453.17 830.17 455.71 830.27 456.5 830.38"/>
<path class="o" d="M456.5 829.75 C456.65 828.29 457.02 824.54 457.38 821 C457.73 817.46 458.1 813.08 458.62 808.5 C459.15 803.92 459.77 798.08 460.5 793.5 C461.23 788.92 462.17 784.44 463 781 C463.83 777.56 464.56 774.85 465.5 772.88 C466.44 770.9 466.33 769.85 468.62 769.12 C470.92 768.4 474.35 768.6 479.25 768.5 C484.15 768.4 492.38 768.54 498 768.5 C503.62 768.46 508 768.56 513 768.25 C518 767.94 524.25 766.75 528 766.62 C531.75 766.5 533.31 767.02 535.5 767.5 C537.69 767.98 540.19 769.17 541.12 769.5"/>
<path class="o" d="M541.12 769.5 C540.92 771 540.4 774.5 539.88 778.5 C539.35 782.5 538.73 787.88 538 793.5 C537.27 799.12 536.23 806.83 535.5 812.25 C534.77 817.67 534.08 822.46 533.62 826 C533.17 829.54 532.65 831.73 532.75 833.5 C532.85 835.27 533.58 836 534.25 836.62 C534.92 837.25 536.33 837.15 536.75 837.25"/>
<path class="o" d="M456.5 829.75 C459.25 829.85 467.12 830.06 473 830.38 C478.88 830.69 485.5 831 491.75 831.62 C498 832.25 505.29 833.29 510.5 834.12 C515.71 834.96 519.67 835.9 523 836.62 C526.33 837.35 529.25 838.19 530.5 838.5"/>
<path class="o" d="M541.12 769.5 C541.85 769.12 542.69 767.94 545.5 767.25 C548.31 766.56 552.92 765.79 558 765.38 C563.08 764.96 572.17 764.69 576 764.75 C579.83 764.81 578.92 765.79 581 765.75 C583.08 765.71 584.12 764.98 588.5 764.5 C592.88 764.02 601 763.15 607.25 762.88 C613.5 762.6 621.62 762.6 626 762.88 C630.38 763.15 631.31 763.67 633.5 764.5 C635.69 765.33 637.67 766.48 639.12 767.88 C640.58 769.27 641.73 772.04 642.25 772.88"/>
<path class="o" d="M642.25 772.88 C642.04 774.23 641.52 777.15 641 781 C640.48 784.85 639.75 790.79 639.12 796 C638.5 801.21 637.88 806.83 637.25 812.25 C636.62 817.67 635.83 824.33 635.38 828.5 C634.92 832.67 634.56 834.96 634.5 837.25 C634.44 839.54 634.92 841.42 635 842.25"/>
<path class="o" d="M536.75 837.25 C539.67 837.15 547.71 836.62 554.25 836.62 C560.79 836.62 569.25 836.94 576 837.25 C582.75 837.56 588.5 837.98 594.75 838.5 C601 839.02 608.29 839.65 613.5 840.38 C618.71 841.1 622.88 842.1 626 842.88 C629.12 843.65 631.21 844.65 632.25 845"/>
<path class="o" d="M642.25 772.88 C642.77 771.94 643.92 768.92 645.38 767.25 C646.83 765.58 647.98 763.75 651 762.88 C654.02 762 658.29 762.1 663.5 762 C668.71 761.9 677.04 762.1 682.25 762.25 C687.46 762.4 691.12 762.92 694.75 762.88 C698.38 762.83 699.33 762.27 704 762 C708.67 761.73 716.5 761.52 722.75 761.25 C729 760.98 735.25 760.62 741.5 760.38 C747.75 760.12 755.67 759.75 760.25 759.75 C764.83 759.75 766.71 759.96 769 760.38 C771.29 760.79 772.65 761.1 774 762.25 C775.35 763.4 776.5 764.96 777.12 767.25 C777.75 769.54 777.85 772.04 777.75 776 C777.65 779.96 777.12 786 776.5 791 C775.88 796 775.04 801 774 806 C772.96 811 771.29 816 770.25 821 C769.21 826 768.58 831.83 767.75 836 C766.92 840.17 766.19 843.08 765.25 846 C764.31 848.92 762.65 852.25 762.12 853.5"/>
<path class="o" d="M769 760.38 C770.67 760.56 776.29 761.29 779 761.5 C781.71 761.71 784.21 761.6 785.25 761.62"/>
<path class="o" d="M775.88 762.25 C776.6 762.67 779.1 763.5 780.25 764.75 C781.4 766 782.23 767.04 782.75 769.75 C783.27 772.46 783.48 777.04 783.38 781 C783.27 784.96 782.75 789.33 782.12 793.5 C781.5 797.67 780.15 802.04 779.62 806 C779.1 809.96 779.31 814.75 779 817.25 C778.69 819.75 777.96 820.38 777.75 821"/>
<path class="o" d="M777.75 821 C777.12 821.83 774.94 823.92 774 826 C773.06 828.08 772.75 830.17 772.12 833.5 C771.5 836.83 770.88 842.46 770.25 846 C769.62 849.54 768.69 853.29 768.38 854.75"/>
<path class="u" d="M762.12 853.5 L765.25 855.38 L768.38 855.38"/>
<path class="o" d="M635 842.25 C637.67 842.29 645.21 842.4 651 842.5 C656.79 842.6 663.5 842.54 669.75 842.88 C676 843.21 682.79 843.94 688.5 844.5 C694.21 845.06 698.29 845.58 704 846.25 C709.71 846.92 716.5 847.81 722.75 848.5 C729 849.19 736.29 849.65 741.5 850.38 C746.71 851.1 750.56 852.04 754 852.88 C757.44 853.71 760.77 854.96 762.12 855.38"/>
<path class="o" d="M777.75 821 C778.79 820.69 781.71 819.44 784 819.12 C786.29 818.81 789.21 818.71 791.5 819.12 C793.79 819.54 794.62 820.06 797.75 821.62 C800.88 823.19 806.08 825.9 810.25 828.5 C814.42 831.1 819.12 834.75 822.75 837.25 C826.38 839.75 830.46 842.46 832 843.5"/>
<path class="o" d="M777.75 821 C779 822.04 782.54 824.75 785.25 827.25 C787.96 829.75 791.71 833.5 794 836 C796.29 838.5 798.17 841.21 799 842.25"/>
<path class="o" d="M799 842.25 C800.88 842.25 806.29 842.04 810.25 842.25 C814.21 842.46 819.12 843.04 822.75 843.5 C826.38 843.96 830.46 844.75 832 845"/>
<path class="o" d="M832.2 844.5 L808.4 976.4"/>
<path class="o" d="M799 842.25 C798.58 844.12 797.54 849.12 796.5 853.5 C795.46 857.88 794 862.5 792.75 868.5 C791.5 874.5 790.25 882.88 789 889.5 C787.75 896.12 786.5 901.58 785.25 908.25 C784 914.92 782.75 922.21 781.5 929.5 C780.25 936.79 779.04 945.33 777.75 952 C776.46 958.67 774.42 966.58 773.75 969.5"/>
<path class="o" d="M773.75 969.5 L791.5 973.25 L808.38 976.38"/>
<path class="u" d="M773.75 970 L773.5 988.12 L793.75 992.75 L800.62 975"/>
<path class="o" d="M762.12 855.38 C762.85 855.69 765.15 856.1 766.5 857.25 C767.85 858.4 768.58 860.38 770.25 862.25 C771.92 864.12 774.42 866.42 776.5 868.5 C778.58 870.58 781.19 872.67 782.75 874.75 C784.31 876.83 785.25 879.27 785.88 881 C786.5 882.73 786.6 883.08 786.5 885.12 C786.4 887.17 785.77 889.81 785.25 893.25 C784.73 896.69 783.79 902.83 783.38 905.75 C782.96 908.67 783.17 909.5 782.75 910.75 C782.33 912 781.19 912.83 780.88 913.25"/>
<path class="o" d="M612.88 862.25 C615.06 862.73 620.69 864.38 626 865.12 C631.31 865.88 638.5 866.27 644.75 866.75 C651 867.23 657.25 867.33 663.5 868 C669.75 868.67 675.5 869.83 682.25 870.75 C689 871.67 697.25 872.62 704 873.5 C710.75 874.38 715.46 874.96 722.75 876 C730.04 877.04 740.46 878.75 747.75 879.75 C755.04 880.75 761.29 881.58 766.5 882 C771.71 882.42 775.77 882.35 779 882.25 C782.23 882.15 784.73 881.52 785.88 881.38"/>
<path class="o" d="M619.75 892 C622.88 892.42 631.21 893.5 638.5 894.5 C645.79 895.5 655.17 896.85 663.5 898 C671.83 899.15 681.75 900.46 688.5 901.38 C695.25 902.29 698.29 902.56 704 903.5 C709.71 904.44 715.46 905.79 722.75 907 C730.04 908.21 740.46 909.81 747.75 910.75 C755.04 911.69 760.98 912.21 766.5 912.62 C772.02 913.04 778.48 913.15 780.88 913.25"/>
<path class="u" d="M576 890.5 C580.17 891.17 592.67 893.1 601 894.5 C609.33 895.9 617.67 897.62 626 898.88 C634.33 900.12 642.67 900.96 651 902 C659.33 903.04 667.17 903.98 676 905.12 C684.83 906.27 696.21 907.83 704 908.88 C711.79 909.92 715.46 910.54 722.75 911.38 C730.04 912.21 740.46 913.19 747.75 913.88 C755.04 914.56 761.08 915.15 766.5 915.5 C771.92 915.85 777.96 915.92 780.25 916"/>
<path class="u" d="M780.88 914.5 C780.56 917.42 779.73 925.75 779 932 C778.27 938.25 777.38 945.75 776.5 952 C775.62 958.25 774.21 966.58 773.75 969.5"/>
<path class="o" d="M637.25 844.12 C636.21 845.27 632.88 849.6 631 851 C629.12 852.4 628.5 851.46 626 852.5 C623.5 853.54 618.19 855.62 616 857.25 C613.81 858.88 613.5 860 612.88 862.25 C612.25 864.5 612.31 867.67 612.25 870.75 C612.19 873.83 612.5 878.04 612.5 880.75 C612.5 883.46 611.88 885.33 612.25 887 C612.62 888.67 613.5 889.92 614.75 890.75 C616 891.58 618.92 891.79 619.75 892"/>
<path class="o" d="M632.25 845 C631.62 845.79 630.17 848.33 628.5 849.75 C626.83 851.17 624.33 852.25 622.25 853.5 C620.17 854.75 617.56 855.79 616 857.25 C614.44 858.71 613.4 861.42 612.88 862.25"/>
<path class="o" d="M493 852.88 C495.92 853.19 503.42 854.02 510.5 854.75 C517.58 855.48 527.17 856.46 535.5 857.25 C543.83 858.04 553.75 858.88 560.5 859.5 C567.25 860.12 570.92 860.44 576 861 C581.08 861.56 586.21 862.46 591 862.88 C595.79 863.29 601.1 863.6 604.75 863.5 C608.4 863.4 611.52 862.46 612.88 862.25"/>
<path class="o" d="M538 837.88 C537.17 838.19 536.33 838.92 533 839.75 C529.67 840.58 522.79 841.83 518 842.88 C513.21 843.92 508.21 844.85 504.25 846 C500.29 847.15 496.12 848.6 494.25 849.75 C492.38 850.9 493.42 851.21 493 852.88 C492.58 854.54 491.85 857.15 491.75 859.75 C491.65 862.35 491.85 865.9 492.38 868.5 C492.9 871.1 493.94 874.02 494.88 875.38 C495.81 876.73 497.48 876.42 498 876.62"/>
<path class="o" d="M494.88 875.75 C497.48 876.17 503.73 877.21 510.5 878.25 C517.27 879.29 527.17 880.75 535.5 882 C543.83 883.25 553.75 884.71 560.5 885.75 C567.25 886.79 570.29 887.46 576 888.25 C581.71 889.04 588.71 889.92 594.75 890.5 C600.79 891.08 609.33 891.54 612.25 891.75"/>
<path class="u" d="M493.62 877.62 C496.44 878.1 503.52 879.4 510.5 880.5 C517.48 881.6 527.17 882.96 535.5 884.25 C543.83 885.54 553.75 887.21 560.5 888.25 C567.25 889.29 573.42 890.12 576 890.5"/>
<path class="o" d="M530.5 838.5 C528.42 839.02 522.38 840.48 518 841.62 C513.62 842.77 508 844.23 504.25 845.38 C500.5 846.52 497.69 847.46 495.5 848.5 C493.31 849.54 492.06 850.38 491.12 851.62 C490.19 852.88 490.08 853.81 489.88 856 C489.67 858.19 489.67 862.25 489.88 864.75 C490.08 867.25 490.6 869.33 491.12 871 C491.65 872.67 492.69 874.12 493 874.75"/>
<path class="o" d="M407.5 842.25 C409.58 842.21 415.83 841.9 420 842 C424.17 842.1 427.83 842.38 432.5 842.88 C437.17 843.38 443.33 844.27 448 845 C452.67 845.73 456.33 846.46 460.5 847.25 C464.67 848.04 468.21 849.02 473 849.75 C477.79 850.48 486.54 851.31 489.25 851.62"/>
<path class="o" d="M448 832.25 C444.38 832.77 432.17 834.33 426.25 835.38 C420.33 836.42 415.62 837.35 412.5 838.5 C409.38 839.65 408.44 840.17 407.5 842.25 C406.56 844.33 406.88 848.08 406.88 851 C406.88 853.92 407.4 858.29 407.5 859.75"/>
<path class="o" d="M407.5 861 C409.58 861.38 415.83 862.62 420 863.25 C424.17 863.88 427.83 864.17 432.5 864.75 C437.17 865.33 443.33 866.06 448 866.75 C452.67 867.44 455.29 868 460.5 868.88 C465.71 869.75 474.25 871.38 479.25 872 C484.25 872.62 488.62 872.52 490.5 872.62"/>
<path class="u" d="M408.12 862.25 C410.1 862.71 415.94 864.21 420 865 C424.06 865.79 427.83 866.29 432.5 867 C437.17 867.71 442.29 868.31 448 869.25 C453.71 870.19 460.5 871.58 466.75 872.62 C473 873.67 481.23 875.08 485.5 875.5 C489.77 875.92 491.23 875.19 492.38 875.12"/>
<path class="u" d="M448 831 C450.08 831 455.29 831.04 460.5 831 C465.71 830.96 473 830.54 479.25 830.75 C485.5 830.96 491.75 831.48 498 832.25 C504.25 833.02 511.33 834.33 516.75 835.38 C522.17 836.42 528.21 837.98 530.5 838.5"/>
<path class="u" d="M493 876.38 C492.9 878.56 492.42 885.23 492.38 889.5 C492.33 893.77 492.75 898.25 492.75 902 C492.75 905.75 492.33 909.92 492.38 912 C492.42 914.08 492.9 914.08 493 914.5"/>
<path class="o" d="M409 894.5 L426.25 898.88 L448 903.25 L466.75 907.62 L491.75 911.75"/>
<path class="o" d="M493 914.5 L516.75 920.12 L548 925.75 L576 931.38 L607.25 938.25 L638.5 944.5 L669.75 950.75 L704 957.62 L729 962.62 L754 967 L773.75 970.12"/>
<path class="u" d="M401.88 842.25 C402.19 843.08 403.23 844.33 403.75 847.25 C404.27 850.17 404.79 854.79 405 859.75 C405.21 864.71 405 871.21 405 877 C405 882.79 405 891.58 405 894.5"/>
<path class="u" d="M407.5 859.75 C407.67 862.62 408.25 871.21 408.5 877 C408.75 882.79 408.92 891.58 409 894.5"/>
<path class="u" d="M387.5 902 L389.38 909.5 L392.5 911.38 L400 908.25 L399.38 898.25"/>
<path class="u" d="M392.25 901 L392.5 911.38"/>
<path class="u" d="M401.25 897.25 L402.5 902.62 L406.25 904.5 L411.88 902.62 L411.88 895.75"/>
<path class="u" d="M406.25 895.12 L406.25 904.5"/>
<path class="u" d="M412.5 897 L415.62 907.62 L421.88 909.5 L427.75 905.75 L427.75 899.5"/>
<path class="u" d="M421.88 898.88 L421.88 909.5"/>
<path class="u" d="M478 910.12 L479.88 922.62 L487.38 924.5 L493 920.12 L493.62 914.5"/>
<path class="u" d="M489.88 912 L487.38 924.5"/>
<path class="u" d="M498.62 916.38 L501.12 928.25 L509.25 930.75 L515.25 926.38 L516.12 919.5"/>
<path class="u" d="M509.88 918.88 L509.25 930.75"/>
<path class="o" d="M182.84 886.15 C183.49 886.2 184.63 886.61 186.74 886.45 C188.86 886.28 191.95 885.88 195.53 885.18 C199.11 884.48 203.34 883.55 208.23 882.25 C213.11 880.94 218.81 879.07 224.83 877.36 C230.85 875.65 238.66 873.38 244.36 871.99 C250.06 870.61 253.73 870.04 259.01 869.06 C264.28 868.09 270.5 867.14 276 866.13 C281.5 865.12 284.67 864.06 292 863 C299.33 861.94 313.46 860.75 320 859.75 C326.54 858.75 327.08 858.08 331.25 857 C335.42 855.92 341.25 854.08 345 853.25 C348.75 852.42 350.62 852.69 353.75 852 C356.88 851.31 358.96 850.23 363.75 849.12 C368.54 848.02 376.88 846.42 382.5 845.38 C388.12 844.33 394.38 843.4 397.5 842.88 C400.62 842.35 400.62 842.35 401.25 842.25"/>
<path class="o" d="M320 857 C320.52 857.62 322.33 858.67 323.12 860.75 C323.92 862.83 324.65 866.79 324.75 869.5 C324.85 872.21 324.33 874.96 323.75 877 C323.17 879.04 321.67 880.96 321.25 881.75"/>
<path class="u" d="M192 914.25 C196.17 913.04 208.67 909.35 217 907 C225.33 904.65 233.67 902.42 242 900.12 C250.33 897.83 258.67 895.44 267 893.25 C275.33 891.06 283.17 888.92 292 887 C300.83 885.08 313.25 883.1 320 881.75 C326.75 880.4 327.29 880.29 332.5 878.88 C337.71 877.46 345 875.12 351.25 873.25 C357.5 871.38 363.75 869.29 370 867.62 C376.25 865.96 383.12 864.4 388.75 863.25 C394.38 862.1 401.25 861.17 403.75 860.75"/>
<path class="u" d="M192 917.25 C193.25 917.21 195.33 917.98 199.5 917 C203.67 916.02 209.92 913.5 217 911.38 C224.08 909.25 233.67 906.6 242 904.25 C250.33 901.9 258.67 899.5 267 897.25 C275.33 895 283.17 892.92 292 890.75 C300.83 888.58 313.25 885.88 320 884.25 C326.75 882.62 327.29 882.52 332.5 881 C337.71 879.48 345 877.04 351.25 875.12 C357.5 873.21 363.75 871.21 370 869.5 C376.25 867.79 383.12 866.08 388.75 864.88 C394.38 863.67 401.25 862.69 403.75 862.25"/>
<path class="u" d="M192 918.25 C193.46 918.25 196.58 919.08 200.75 918.25 C204.92 917.42 210.12 915.33 217 913.25 C223.88 911.17 233.67 908.15 242 905.75 C250.33 903.35 258.67 901.17 267 898.88 C275.33 896.58 283.17 894.29 292 892 C300.83 889.71 313.25 886.79 320 885.12 C326.75 883.46 327.29 883.46 332.5 882 C337.71 880.54 345 878.25 351.25 876.38 C357.5 874.5 363.75 872.48 370 870.75 C376.25 869.02 383.12 867.21 388.75 866 C394.38 864.79 401.25 863.92 403.75 863.5"/>
<path class="u" d="M354.39 830.62 C356.1 829.97 362.05 827.54 364.65 826.72 C367.25 825.9 367.02 826.17 370 825.69 C372.98 825.2 378.33 824.23 382.5 823.81 C386.67 823.4 391.88 823.24 395 823.19 C398.12 823.14 398.65 823.5 401.25 823.5 C403.85 823.5 406.98 823.14 410.62 823.19 C414.27 823.24 419.23 823.45 423.12 823.81 C427.02 824.18 430.56 824.81 434 825.38 C437.44 825.94 441.08 826.49 443.75 827.21 C446.42 827.92 448.96 829.24 450 829.65"/>
<path class="u" d="M370 827.88 C371.56 827.67 375.73 826.99 379.38 826.62 C383.02 826.26 388.23 825.9 391.88 825.69 C395.52 825.48 398.44 825.27 401.25 825.38 C404.06 825.48 405.62 826.31 408.75 826.31 C411.88 826.31 415.79 825.27 420 825.38 C424.21 825.48 431.67 826.68 434 826.94"/>
<path class="o" d="M354.88 831.6 C355.7 832.09 356.51 833.96 359.77 834.53 C363.02 835.1 371.15 834.93 374.41 835.02 C377.68 835.11 376.99 834.79 379.38 835.06 C381.76 835.33 385.94 836.1 388.75 836.62 C391.56 837.15 394.27 837.56 396.25 838.19 C398.23 838.81 399.38 838.74 400.62 840.38 C401.88 842.01 403.07 845.72 403.75 848 C404.43 850.28 404.45 851.91 404.69 854.06 C404.93 856.21 405.09 859.76 405.18 860.9"/>
<path class="o" d="M450 831.6 C447.98 831.76 441.85 832.16 437.89 832.58 C433.93 833 429.75 833.55 426.25 834.12 C422.75 834.7 419.38 835.38 416.88 836 C414.38 836.62 412.71 837.15 411.25 837.88 C409.79 838.6 408.85 839.44 408.12 840.38 C407.4 841.31 407.14 842.23 406.88 843.5 C406.61 844.77 406.6 846.24 406.56 848 C406.52 849.76 406.55 851.91 406.64 854.06 C406.74 856.21 407.05 859.76 407.13 860.9"/>
<path class="u" d="M378.12 827.56 C379.38 827.72 383.44 827.98 385.62 828.5 C387.81 829.02 389.69 830.11 391.25 830.69 C392.81 831.26 393.12 831.47 395 831.94 C396.88 832.41 400.21 833.03 402.5 833.5 C404.79 833.97 406.88 834.28 408.75 834.75 C410.62 835.22 412.92 836.05 413.75 836.31"/>
<path class="u" d="M387.19 835.69 C387.76 835.27 389.32 833.86 390.62 833.19 C391.93 832.51 393.44 832.25 395 831.62 C396.56 831 398.44 830.11 400 829.44 C401.56 828.76 403.65 827.88 404.38 827.56"/>
<path class="u" d="M396.88 837.88 C397.29 837.51 398.33 836.36 399.38 835.69 C400.42 835.01 401.56 834.33 403.12 833.81 C404.69 833.29 406.98 832.98 408.75 832.56 C410.52 832.15 411.88 831.62 413.75 831.31 C415.62 831 418.23 830.64 420 830.69 C421.77 830.74 423.23 831.26 424.38 831.62 C425.52 831.99 426.46 832.67 426.88 832.88"/>
<path class="u" d="M405 827.25 C405.83 827.46 408.33 828.14 410 828.5 C411.67 828.86 413.33 829.18 415 829.44 C416.67 829.7 418.12 830.38 420 830.06 C421.88 829.75 425.21 827.98 426.25 827.56"/>
<path class="u" d="M396.88 831.31 C397.81 831.21 400.52 830.84 402.5 830.69 C404.48 830.53 406.88 830.38 408.75 830.38 C410.62 830.38 412.92 830.64 413.75 830.69"/>
<path class="v" d="M161.5 769.12 C162.54 771.1 166.08 776.94 167.75 781 C169.42 785.06 170.5 788.81 171.5 793.5 C172.5 798.19 173.38 806.52 173.75 809.12"/>
<path class="v" d="M123.38 812.88 C125.98 812.15 133.9 809.44 139 808.5 C144.1 807.56 148.21 807.15 154 807.25 C159.79 807.35 170.46 808.81 173.75 809.12"/>
<path class="v" d="M173.75 809.12 C175.25 808.6 179.71 806.83 182.75 806 C185.79 805.17 188.38 804.54 192 804.12 C195.62 803.71 200.08 803.23 204.5 803.5 C208.92 803.77 216.17 805.38 218.5 805.75"/>
<path class="v" d="M173.75 809.12 C174.83 810.69 178.44 814.85 180.25 818.5 C182.06 822.15 183.48 826.52 184.62 831 C185.77 835.48 186.71 842.98 187.12 845.38"/>
<path class="v" d="M209.5 769.12 C210.54 770.69 214.19 775.06 215.75 778.5 C217.31 781.94 218.25 786.21 218.88 789.75 C219.5 793.29 219.56 797.08 219.5 799.75 C219.44 802.42 218.67 804.75 218.5 805.75"/>
<path class="v" d="M218.5 805.75 C220.75 805.17 227.15 802.94 232 802.25 C236.85 801.56 245.02 801.73 247.62 801.62"/>
<path class="v" d="M218.5 805.75 C219.71 807.46 223.92 812.42 225.75 816 C227.58 819.58 228.77 824.12 229.5 827.25 C230.23 830.38 230.23 832.46 230.12 834.75 C230.02 837.04 229.08 839.96 228.88 841"/>
<path class="v" d="M283.25 771 C284.19 772.67 287.42 777.46 288.88 781 C290.33 784.54 291.42 789.23 292 792.25 C292.58 795.27 292.31 797.98 292.38 799.12"/>
<path class="v" d="M257 800 C259.71 799.65 267.35 798.02 273.25 797.88 C279.15 797.73 289.19 798.92 292.38 799.12"/>
<path class="v" d="M292.38 799.12 C294.4 798.71 299.9 797.19 304.5 796.62 C309.1 796.06 315.75 796.17 320 795.75 C324.25 795.33 326.88 794.25 330 794.12 C333.12 794 337.29 794.85 338.75 795"/>
<path class="v" d="M292.38 799.12 C293.56 800.9 297.69 806.1 299.5 809.75 C301.31 813.4 302.67 816.94 303.25 821 C303.83 825.06 303.04 831.94 303 834.12"/>
<path class="v" d="M311.38 770.75 C312.31 772.25 315.56 777.21 317 779.75 C318.44 782.29 319.4 783.71 320 786 C320.6 788.29 320.52 792.25 320.62 793.5"/>
<path class="v" d="M321.25 796 C322.29 797.67 325.83 802.25 327.5 806 C329.17 809.75 330.52 814.44 331.25 818.5 C331.98 822.56 331.77 828.4 331.88 830.38"/>
<path class="v" d="M360.62 771.62 C361.25 773.19 363.44 777.98 364.38 781 C365.31 784.02 365.98 787.46 366.25 789.75 C366.52 792.04 366.04 793.92 366 794.75"/>
<path class="v" d="M345 796.62 C346.67 796.31 351.5 795.06 355 794.75 C358.5 794.44 364.17 794.75 366 794.75"/>
<path class="v" d="M366 794.75 C367.5 794.5 371.94 793.35 375 793.25 C378.06 793.15 382.81 793.98 384.38 794.12"/>
<path class="v" d="M384.38 794.12 C385.73 793.92 389.79 793.15 392.5 792.88 C395.21 792.6 399.27 792.56 400.62 792.5"/>
<path class="v" d="M366 794.75 C366.67 796.21 368.92 800.38 370 803.5 C371.08 806.62 372.08 810.17 372.5 813.5 C372.92 816.83 372.5 821.83 372.5 823.5"/>
<path class="v" d="M382.12 772 C382.5 773.5 383.9 778.04 384.38 781 C384.85 783.96 385 787.56 385 789.75 C385 791.94 384.48 793.4 384.38 794.12"/>
<path class="v" d="M384.38 794.12 C385 795.69 387.23 800.48 388.12 803.5 C389.02 806.52 389.6 809.29 389.75 812.25 C389.9 815.21 389.12 819.75 389 821.25"/>
<path class="v" d="M423.5 774.5 C422.92 775.79 420.79 779.5 420 782.25 C419.21 785 418.85 788.71 418.75 791 C418.65 793.29 419.27 795.17 419.38 796"/>
<path class="v" d="M405 796 C406.25 795.9 410.1 795.38 412.5 795.38 C414.9 795.38 418.23 795.9 419.38 796"/>
<path class="v" d="M419.38 796 C420.94 795.69 425.31 794.12 428.75 794.12 C432.19 794.12 438.12 795.69 440 796"/>
<path class="v" d="M440 796 C441.33 795.9 445.83 795.38 448 795.38 C450.17 795.38 451.44 795.69 453 796 C454.56 796.31 456.65 797.04 457.38 797.25"/>
<path class="v" d="M419.38 796 C419.06 797.67 417.85 802.88 417.5 806 C417.15 809.12 417.04 812.25 417.25 814.75 C417.46 817.25 418.5 819.96 418.75 821"/>
<path class="v" d="M443.12 774.5 C442.6 776 440.62 780.54 440 783.5 C439.38 786.46 439.38 790.17 439.38 792.25 C439.38 794.33 439.9 795.38 440 796"/>
<path class="v" d="M440 796 C439.48 797.67 437.67 802.88 436.88 806 C436.08 809.12 435.46 811.83 435.25 814.75 C435.04 817.67 435.56 822.04 435.62 823.5"/>
<path class="v" d="M450.75 805.38 C451.02 806.52 452.1 810.06 452.38 812.25 C452.65 814.44 452.38 817.46 452.38 818.5"/>
<path class="v" d="M487.38 771 C486.65 772.67 483.98 777.67 483 781 C482.02 784.33 481.67 788.08 481.5 791 C481.33 793.92 481.92 797.25 482 798.5"/>
<path class="v" d="M461.12 797 C462.9 797.15 468.27 797.62 471.75 797.88 C475.23 798.12 480.29 798.4 482 798.5"/>
<path class="v" d="M482 798.5 C484.04 798.25 490.17 796.9 494.25 797 C498.33 797.1 504.46 798.77 506.5 799.12"/>
<path class="v" d="M506.5 799.12 C508.83 799.06 515.88 798.6 520.5 798.75 C525.12 798.9 531.96 799.79 534.25 800"/>
<path class="v" d="M482 798.5 C481.33 800.17 478.67 805.17 478 808.5 C477.33 811.83 477.58 815.21 478 818.5 C478.42 821.79 480.08 826.62 480.5 828.25"/>
<path class="v" d="M512.75 769.12 C512.06 771.1 509.58 777.15 508.62 781 C507.67 784.85 507.35 789.23 507 792.25 C506.65 795.27 506.58 797.98 506.5 799.12"/>
<path class="v" d="M506.5 799.12 C505.92 800.9 503.79 806.31 503 809.75 C502.21 813.19 501.92 816.58 501.75 819.75 C501.58 822.92 501.96 827.25 502 828.75"/>
<path class="v" d="M569.88 767.5 C569.15 769.12 566.54 773.75 565.5 777.25 C564.46 780.75 563.73 784.75 563.62 788.5 C563.52 792.25 564.67 797.88 564.88 799.75"/>
<path class="v" d="M538.62 799.12 C540.81 798.98 547.38 798.15 551.75 798.25 C556.12 798.35 562.69 799.5 564.88 799.75"/>
<path class="v" d="M564.88 799.75 C565.81 799.65 568.65 799.29 570.5 799.12 C572.35 798.96 573.21 798.75 576 798.75 C578.79 798.75 583.4 798.85 587.25 799.12 C591.1 799.4 597.15 800.17 599.12 800.38"/>
<path class="v" d="M564.88 799.75 C564.25 801.42 562 806.21 561.12 809.75 C560.25 813.29 559.62 817.21 559.62 821 C559.62 824.79 560.88 830.58 561.12 832.5"/>
<path class="v" d="M604.75 766 C604.12 767.88 601.94 773.29 601 777.25 C600.06 781.21 599.44 785.9 599.12 789.75 C598.81 793.6 599.12 798.6 599.12 800.38"/>
<path class="v" d="M599.12 800.38 C601.1 800.06 606.94 798.81 611 798.5 C615.06 798.19 619.44 798.19 623.5 798.5 C627.56 798.81 633.4 800.06 635.38 800.38"/>
<path class="v" d="M599.12 800.38 C598.81 802.35 597.67 808.19 597.25 812.25 C596.83 816.31 596.62 820.75 596.62 824.75 C596.62 828.75 597.15 834.33 597.25 836.25"/>
<path class="v" d="M686.62 763.5 C686.1 765.79 684.54 772.46 683.5 777.25 C682.46 782.04 681.17 788.08 680.38 792.25 C679.58 796.42 679.02 800.58 678.75 802.25"/>
<path class="v" d="M641.62 800.38 C644.23 800.27 652.56 799.69 657.25 799.75 C661.94 799.81 666.17 800.33 669.75 800.75 C673.33 801.17 677.25 802 678.75 802.25"/>
<path class="v" d="M678.75 802.25 C680.79 802 686.79 801.06 691 800.75 C695.21 800.44 699.96 800.12 704 800.38 C708.04 800.62 711.46 801.62 715.25 802.25 C719.04 802.88 724.83 803.81 726.75 804.12"/>
<path class="v" d="M678.75 802.25 C678.29 804.12 676.71 809.33 676 813.5 C675.29 817.67 674.67 822.62 674.5 827.25 C674.33 831.88 674.92 838.92 675 841.25"/>
<path class="v" d="M732.75 763.5 C732.12 765.79 729.94 772.46 729 777.25 C728.06 782.04 727.5 787.77 727.12 792.25 C726.75 796.73 726.81 802.15 726.75 804.12"/>
<path class="v" d="M726.75 804.12 C728.79 803.85 734.46 802.77 739 802.5 C743.54 802.23 748.38 802.12 754 802.5 C759.62 802.88 769.62 804.38 772.75 804.75"/>
<path class="v" d="M726.75 804.12 C726.29 806.52 724.88 813.6 724 818.5 C723.12 823.4 722.02 828.92 721.5 833.5 C720.98 838.08 720.98 843.92 720.88 846"/>
<path class="v" d="M212.13 852.46 C213.11 852.87 216.04 854.09 217.99 854.9 C219.95 855.72 221.74 856.37 223.85 857.34 C225.97 858.32 228.25 859.7 230.69 860.76 C233.13 861.82 236.22 862.8 238.5 863.69 C240.78 864.59 242.73 865.35 244.36 866.13 C245.99 866.91 247.61 868 248.27 868.38"/>
<path class="v" d="M188.7 865.16 C190.65 864.42 196.35 861.9 200.41 860.76 C204.48 859.62 209.2 858.92 213.11 858.32 C217.02 857.72 220.27 858.04 223.85 857.15 C227.43 856.25 231.18 853.97 234.59 852.95 C238.01 851.92 241.1 851.65 244.36 851 C247.61 850.35 250.87 849.53 254.12 849.04 C257.38 848.55 262.26 848.23 263.89 848.07"/>
<path class="v" d="M196.02 869.55 C198.05 868.9 204.24 866.78 208.23 865.64 C212.21 864.51 216.04 863.48 219.95 862.71 C223.85 861.95 227.92 861.95 231.66 861.05 C235.41 860.16 238.99 858.21 242.41 857.34 C245.82 856.48 249.08 856.2 252.17 855.88 C255.26 855.55 257.38 856.04 260.96 855.39 C264.54 854.74 271.54 852.54 273.66 851.97"/>
<path class="v" d="M235.57 847.58 C237.04 847.99 241.27 849.12 244.36 850.02 C247.45 850.91 251.36 852.05 254.12 852.95 C256.89 853.84 258.52 854.66 260.96 855.39 C263.4 856.12 266.27 856.37 268.77 857.34 C271.28 858.32 274.8 860.6 276 861.25"/>
<path class="v" d="M177.46 856.37 C180.48 855.88 190.08 854.5 195.53 853.44 C200.98 852.38 205.3 851.03 210.18 850.02 C215.06 849.01 220.76 847.95 224.83 847.38 C228.9 846.81 230.52 846.76 234.59 846.6 C238.66 846.44 244.85 846.57 249.24 846.41 C253.64 846.24 259.01 845.76 260.96 845.62"/>
<path class="v" d="M264.5 847.25 C268.04 847.77 279.08 849.23 285.75 850.38 C292.42 851.52 298.79 853.08 304.5 854.12 C310.21 855.17 317.42 856.21 320 856.62"/>
<path class="v" d="M274.5 848.5 C277.42 847.67 287 844.96 292 843.5 C297 842.04 299.83 840.9 304.5 839.75 C309.17 838.6 317.42 837.15 320 836.62"/>
<path class="v" d="M288.25 851.62 C290.54 851 296.71 849.23 302 847.88 C307.29 846.52 317 844.23 320 843.5"/>
<path class="v" d="M300.75 836 C302 836.62 305.04 838.4 308.25 839.75 C311.46 841.1 316.79 842.88 320 844.12 C323.21 845.38 325 846 327.5 847.25 C330 848.5 333.75 850.9 335 851.62"/>
<path class="v" d="M320 833.5 C322.08 833.6 328.75 833.71 332.5 834.12 C336.25 834.54 339.58 835.38 342.5 836 C345.42 836.62 348.75 837.56 350 837.88"/>
<path class="v" d="M332.5 832.25 C334.17 832.88 338.54 834.54 342.5 836 C346.46 837.46 352.4 839.23 356.25 841 C360.1 842.77 364.06 845.69 365.62 846.62"/>
<path class="v" d="M320 843.5 C322.08 842.98 327.5 841.31 332.5 840.38 C337.5 839.44 345.42 838.6 350 837.88 C354.58 837.15 358.33 836.31 360 836"/>
<path class="v" d="M448 832.25 C449.25 832.46 452.79 833.04 455.5 833.5 C458.21 833.96 462.79 834.75 464.25 835"/>
<path class="v" d="M468.62 831 C467.9 831.67 466.44 833.65 464.25 835 C462.06 836.35 457.69 837.75 455.5 839.12 C453.31 840.5 451.85 842.56 451.12 843.25"/>
<path class="v" d="M464.25 835 C465.71 835.17 470.08 835.62 473 836 C475.92 836.38 480.29 837.04 481.75 837.25"/>
<path class="v" d="M489.25 832.5 C488.42 833.08 486.75 834.58 484.25 836 C481.75 837.42 476.71 839.29 474.25 841 C471.79 842.71 470.29 845.38 469.5 846.25"/>
<path class="v" d="M481.75 837.25 C483 837.21 486.54 836.79 489.25 837 C491.96 837.21 495.08 837.67 498 838.5 C500.92 839.33 505.29 841.42 506.75 842"/>
<path class="v" d="M548 838.5 C547.38 839.12 545.5 841.21 544.25 842.25 C543 843.29 541.96 843.29 540.5 844.75 C539.04 846.21 536.65 849.12 535.5 851 C534.35 852.88 533.94 855.17 533.62 856"/>
<path class="v" d="M523 843.5 C525.92 843.6 535.29 844.23 540.5 844.12 C545.71 844.02 548.33 842.88 554.25 842.88 C560.17 842.88 571.54 843.6 576 844.12 C580.46 844.65 579.44 845.48 581 846 C582.56 846.52 584.65 847.04 585.38 847.25"/>
<path class="v" d="M593.5 839.12 C592.67 839.85 589.85 842.15 588.5 843.5 C587.15 844.85 586.73 845.58 585.38 847.25 C584.02 848.92 581.83 851.73 580.38 853.5 C578.92 855.27 577.25 857.15 576.62 857.88"/>
<path class="v" d="M585.38 847.25 C586.94 847.15 591.1 846.52 594.75 846.62 C598.4 846.73 603.4 847.25 607.25 847.88 C611.1 848.5 616.1 849.96 617.88 850.38"/>
<path class="v" d="M631 851 C633.29 850.9 640.38 850.27 644.75 850.38 C649.12 850.48 653.08 850.9 657.25 851.62 C661.42 852.35 667.67 854.23 669.75 854.75"/>
<path class="v" d="M669.75 854.75 C671.83 854.65 676.54 854.02 682.25 854.12 C687.96 854.23 698.92 854.85 704 855.38 C709.08 855.9 709.83 856.52 712.75 857.25 C715.67 857.98 720.04 859.33 721.5 859.75"/>
<path class="v" d="M676.62 845.38 C676.1 846.1 674.33 848.19 673.5 849.75 C672.67 851.31 672.56 853.08 671.62 854.75 C670.69 856.42 668.92 857.71 667.88 859.75 C666.83 861.79 665.79 865.79 665.38 867"/>
<path class="v" d="M720.88 846 C720.88 847.46 720.77 852.46 720.88 854.75 C720.98 857.04 721.4 858.92 721.5 859.75"/>
<path class="v" d="M721.5 859.75 C723.79 859.71 729.83 859.12 735.25 859.5 C740.67 859.88 748.38 860.96 754 862 C759.62 863.04 766.5 865.12 769 865.75"/>
<path class="v" d="M721.5 859.75 C721.19 860.79 720.04 863.71 719.62 866 C719.21 868.29 719.1 872.25 719 873.5"/>
</svg>
</body></html>
